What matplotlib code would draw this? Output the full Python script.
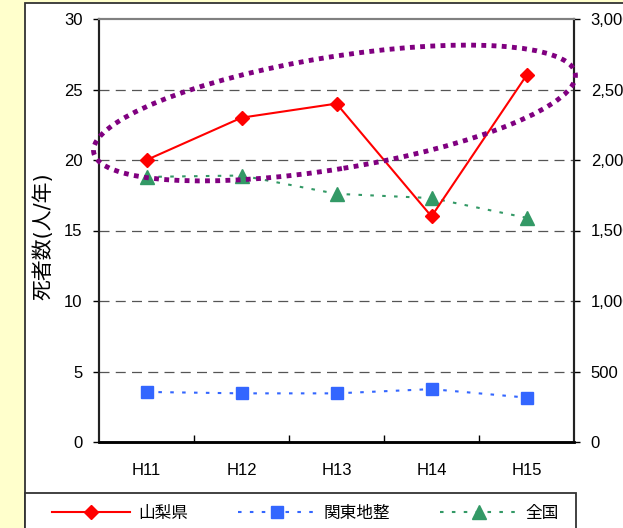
import matplotlib
matplotlib.use("Agg")
import matplotlib.pyplot as plt
from matplotlib.patches import Ellipse, Rectangle
from matplotlib.transforms import IdentityTransform
from matplotlib.ticker import FuncFormatter

plt.rcParams['font.family'] = ['Liberation Sans', 'Noto Sans CJK JP', 'DejaVu Sans']

categories = ["H11", "H12", "H13", "H14", "H15"]
yamanashi = [20, 23, 24, 16, 26]          # left axis
kanto = [355, 345, 345, 375, 315]          # right axis
zenkoku = [1880, 1890, 1760, 1730, 1590]   # right axis
left_ticks = [0, 5, 10, 15, 20, 25, 30]
right_ticks = [0, 500, 1000, 1500, 2000, 2500, 3000]

W, H = 623, 528
fig = plt.figure(figsize=(W / 100, H / 100), dpi=100)
fig.patch.set_facecolor("#FFFFCC")

# white panel
fig.patches.append(Rectangle((25 / W, -0.05), 1.2, (H - 3) / H + 0.05,
                             transform=fig.transFigure, facecolor="white",
                             edgecolor="#333333", linewidth=1.3, zorder=-3))

ax = fig.add_axes([99 / W, (H - 442) / H, (574 - 99) / W, (442 - 19) / H])
ax2 = ax.twinx()
ax.set_zorder(ax2.get_zorder() + 1)
ax.patch.set_visible(False)
ax2.patch.set_visible(False)

x = [i + 0.5 for i in range(len(categories))]

ax.set_xlim(0, 5)
ax.set_ylim(0, 30)
ax2.set_ylim(0, 3000)
ax.set_yticks(left_ticks)
ax2.set_yticks(right_ticks)
ax2.yaxis.set_major_formatter(FuncFormatter(lambda v, p: f"{int(v):,}"))

for yv in left_ticks[1:-1]:
    ax2.axhline(yv * 100, color="#555555", lw=0.9, ls=(0, (8, 5)), zorder=1)

ax.set_xticks([1, 2, 3, 4])
ax.set_xticklabels([])
ax.set_xticks(x, minor=True)
ax.set_xticklabels(categories, minor=True)
ax.tick_params(axis="x", which="major", direction="in", length=5, width=1, color="black")
ax.tick_params(axis="x", which="minor", length=0, pad=15, labelsize=12)
ax.tick_params(axis="y", direction="out", length=4, width=1, pad=8, labelsize=12)
ax2.tick_params(axis="y", direction="out", length=4, width=1, pad=8, labelsize=12)
ax2.tick_params(axis="x", length=0)

for a in (ax, ax2):
    a.spines["top"].set_color("#808080")
    a.spines["top"].set_linewidth(1.5)
    a.spines["left"].set_color("#222222")
    a.spines["left"].set_linewidth(1.5)
    a.spines["right"].set_color("#222222")
    a.spines["right"].set_linewidth(1.5)
    a.spines["bottom"].set_color("black")
    a.spines["bottom"].set_linewidth(1.8)

l2, = ax2.plot(x, kanto, color="#3366FF", lw=1.5, ls=(0, (1.7, 4)), marker="s",
               markersize=8, label="関東地整", zorder=4)
l3, = ax2.plot(x, zenkoku, color="#339966", lw=1.5, ls=(0, (1.7, 4)), marker="^",
               markersize=10, label="全国", zorder=4)
l1, = ax.plot(x, yamanashi, color="#FF0000", lw=1.5, marker="D", markersize=7,
              label="山梨県", zorder=5)

fig.text(43 / W, (H - 236) / H, "死者数(人/年)", rotation=90, ha="center", va="center",
         fontsize=15, family=['DejaVu Sans', 'Noto Sans CJK JP'])

# purple dotted ellipse annotation (pixel coordinates)
ell = Ellipse((334.5, H - 113), 488, 112, angle=9.3, transform=IdentityTransform(),
              fill=False, edgecolor="#800080", lw=3.5, ls=(0, (1, 1.1)),
              capstyle="butt", zorder=10)
fig.patches.append(ell)

# legend box
fig.patches.append(Rectangle((25 / W, -0.05), (576 - 25) / W, (H - 493) / H + 0.05,
                             transform=fig.transFigure, facecolor="white",
                             edgecolor="#333333", linewidth=1.3, zorder=-2))
leg = fig.legend(handles=[l1, l2, l3], loc="center left",
                 bbox_to_anchor=(52 / W, (H - 513) / H), ncol=3, frameon=False,
                 fontsize=12, handlelength=4.7, handletextpad=0.45,
                 columnspacing=3.0, borderaxespad=0, borderpad=0)

fig.savefig("out.png", dpi=100, facecolor=fig.get_facecolor())
